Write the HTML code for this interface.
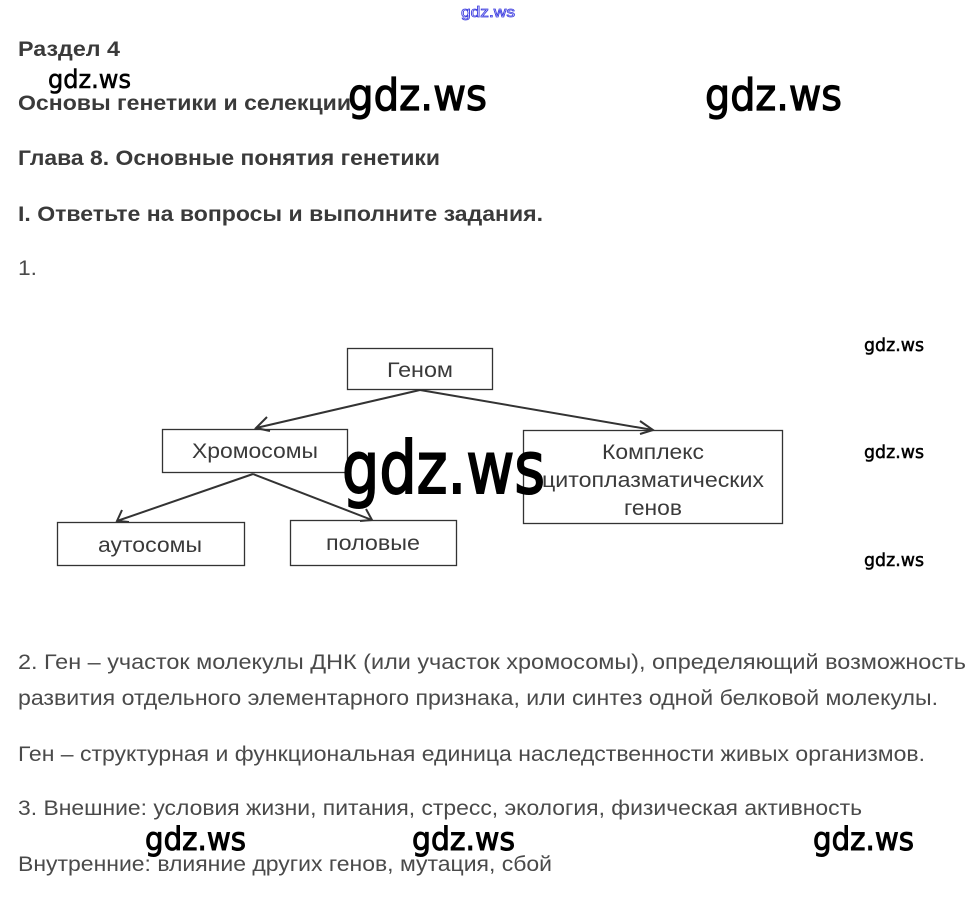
<!DOCTYPE html>
<html><head><meta charset="utf-8"><style>
html,body{margin:0;padding:0;background:#fff;}
svg{display:block;}
.h{font-family:"Liberation Sans",sans-serif;font-weight:bold;fill:#3a3a3a;font-size:21px;}
.b{font-family:"Liberation Sans",sans-serif;fill:#4a4a4a;font-size:21px;}
.w{font-family:"DejaVu Sans","Liberation Sans",sans-serif;fill:#000;stroke:#000;}
</style></head><body>
<svg width="976" height="912" viewBox="0 0 976 912" xmlns="http://www.w3.org/2000/svg">
<text x="461" y="17" textLength="54" lengthAdjust="spacingAndGlyphs" font-family="Liberation Sans,sans-serif" font-size="15" fill="#fff" stroke="#3a3adf" stroke-width="0.8">gdz.ws</text>

<text class="h" x="18" y="56" textLength="102" lengthAdjust="spacingAndGlyphs">Раздел 4</text>
<text class="h" x="18" y="110" textLength="333" lengthAdjust="spacingAndGlyphs">Основы генетики и селекции</text>
<text class="h" x="18" y="165" textLength="422" lengthAdjust="spacingAndGlyphs">Глава 8. Основные понятия генетики</text>
<text class="h" x="18" y="221" textLength="525" lengthAdjust="spacingAndGlyphs">I. Ответьте на вопросы и выполните задания.</text>
<text class="b" x="18" y="275" textLength="19" lengthAdjust="spacingAndGlyphs">1.</text>

<g fill="none" stroke="#333" stroke-width="1.3">
<rect x="347.5" y="348.5" width="145" height="41"/>
<rect x="162.5" y="429.5" width="185" height="43"/>
<rect x="523.5" y="430.5" width="259" height="93"/>
<rect x="57.5" y="522.5" width="187" height="43"/>
<rect x="290.5" y="520.5" width="166" height="45"/>
</g>
<g fill="none" stroke="#333" stroke-width="2">
<line x1="420" y1="390" x2="256" y2="428"/>
<polyline points="267,417 256,428 270,431"/>
<line x1="420" y1="390" x2="653" y2="430"/>
<polyline points="640,421 653,430 640,434"/>
<line x1="253" y1="474" x2="117" y2="521"/>
<polyline points="122,510 117,521 129,522"/>
<line x1="253" y1="474" x2="372" y2="520"/>
<polyline points="360,521 372,520 366,509"/>
</g>
<g class="b" text-anchor="middle" style="fill:#3a3a3a">
<text x="420" y="377" textLength="66" lengthAdjust="spacingAndGlyphs">Геном</text>
<text x="255" y="458" textLength="126" lengthAdjust="spacingAndGlyphs">Хромосомы</text>
<text x="653" y="459" textLength="102" lengthAdjust="spacingAndGlyphs">Комплекс</text>
<text x="653" y="487" textLength="222" lengthAdjust="spacingAndGlyphs">цитоплазматических</text>
<text x="653" y="515" textLength="58" lengthAdjust="spacingAndGlyphs">генов</text>
<text x="150" y="552" textLength="104" lengthAdjust="spacingAndGlyphs">аутосомы</text>
<text x="373" y="550" textLength="94" lengthAdjust="spacingAndGlyphs">половые</text>
</g>

<text class="b" x="18" y="669" textLength="948" lengthAdjust="spacingAndGlyphs">2. Ген – участок молекулы ДНК (или участок хромосомы), определяющий возможность</text>
<text class="b" x="18" y="705" textLength="920" lengthAdjust="spacingAndGlyphs">развития отдельного элементарного признака, или синтез одной белковой молекулы.</text>
<text class="b" x="18" y="761" textLength="907" lengthAdjust="spacingAndGlyphs">Ген – структурная и функциональная единица наследственности живых организмов.</text>
<text class="b" x="18" y="815" textLength="844" lengthAdjust="spacingAndGlyphs">3. Внешние: условия жизни, питания, стресс, экология, физическая активность</text>
<text class="b" x="18" y="871" textLength="534" lengthAdjust="spacingAndGlyphs">Внутренние: влияние других генов, мутация, сбой</text>

<g class="w">
<text x="48" y="88" font-size="26" stroke-width="0.6" textLength="83" lengthAdjust="spacingAndGlyphs">gdz.ws</text>
<text x="348" y="110" font-size="44" stroke-width="1.2" textLength="139" lengthAdjust="spacingAndGlyphs">gdz.ws</text>
<text x="705" y="110" font-size="44" stroke-width="1.2" textLength="137" lengthAdjust="spacingAndGlyphs">gdz.ws</text>
<text x="864" y="351" font-size="18" stroke-width="0.5" textLength="60" lengthAdjust="spacingAndGlyphs">gdz.ws</text>
<text x="864" y="458" font-size="18" stroke-width="0.5" textLength="60" lengthAdjust="spacingAndGlyphs">gdz.ws</text>
<text x="864" y="566" font-size="18" stroke-width="0.5" textLength="60" lengthAdjust="spacingAndGlyphs">gdz.ws</text>
<text x="342" y="493" font-size="72" stroke-width="2" textLength="203" lengthAdjust="spacingAndGlyphs">gdz.ws</text>
<text x="145" y="850" font-size="32" stroke-width="1" textLength="101" lengthAdjust="spacingAndGlyphs">gdz.ws</text>
<text x="412" y="850" font-size="32" stroke-width="1" textLength="103" lengthAdjust="spacingAndGlyphs">gdz.ws</text>
<text x="813" y="850" font-size="32" stroke-width="1" textLength="101" lengthAdjust="spacingAndGlyphs">gdz.ws</text>
</g>
</svg>
</body></html>
